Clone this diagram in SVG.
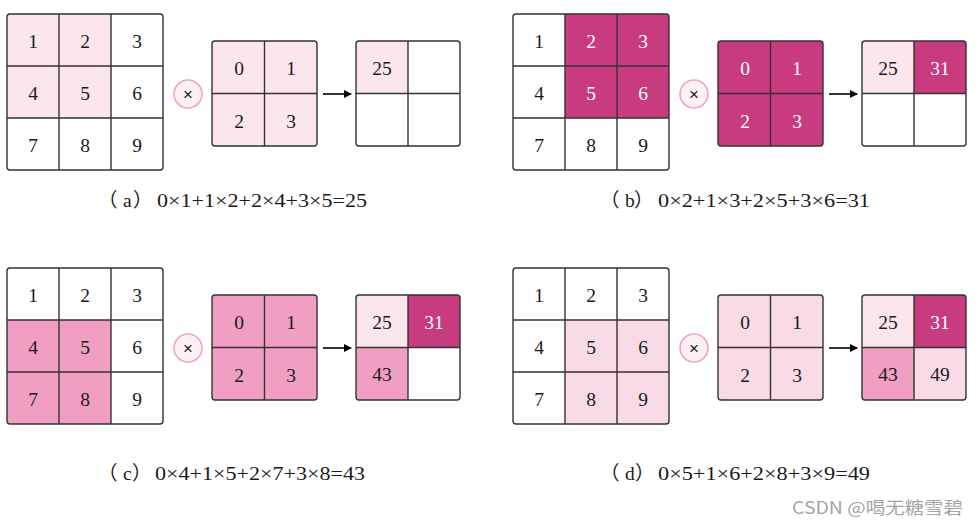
<svg xmlns="http://www.w3.org/2000/svg" width="979" height="526" viewBox="0 0 979 526">
<style>
.bg{fill:#ffffff}
.frame{fill:none;stroke:#333333;stroke-width:1.4}
.grid{stroke:#333333;stroke-width:1.4;fill:none}
.lt{fill:#FCE6ED}
.dk{fill:#C83B7E}
.md{fill:#F19EC3}
.pl{fill:#F9DAE7}
.wh{fill:#ffffff}
.num{font-family:"Liberation Serif",serif;font-size:19.5px;fill:#1a1a1a;text-anchor:middle}
.numw{font-family:"Liberation Serif",serif;font-size:19.5px;fill:#ffffff;text-anchor:middle}
.op{fill:#FDF1F6;stroke:#F3A3C4;stroke-width:1.6}
.opt{font-family:"Liberation Sans",sans-serif;font-size:17px;fill:#1a1a1a;text-anchor:middle}
.cap{font-family:"Liberation Serif","Noto Sans CJK SC",serif;font-size:19.5px;fill:#1a1a1a}
.arrow{stroke:#000000;stroke-width:1.6;fill:none}
.wm{font-family:"Noto Sans CJK SC","Liberation Sans",sans-serif;font-size:17px;fill:#A5A5A5}
</style>
<defs>
<marker id="ah" markerWidth="8" markerHeight="8" refX="7" refY="4" orient="auto" markerUnits="userSpaceOnUse">
<path d="M0,0 L8,4 L0,8 Z" fill="#000000"/>
</marker>
</defs>
<rect class="bg" x="0" y="0" width="979" height="526"/>

<!-- Panel (a) -->
<g id="panel-a">
<g id="a-input">
<rect class="wh" x="7" y="14" width="156" height="156" rx="3"/>
<rect class="lt" x="7" y="14" width="104" height="104"/>
<path class="grid" d="M59,14V170M111,14V170M7,66H163M7,118H163"/>
<rect class="frame" x="7" y="14" width="156" height="156" rx="3"/>
<text class="num" x="33" y="48">1</text><text class="num" x="85" y="48">2</text><text class="num" x="137" y="48">3</text>
<text class="num" x="33" y="100">4</text><text class="num" x="85" y="100">5</text><text class="num" x="137" y="100">6</text>
<text class="num" x="33" y="152">7</text><text class="num" x="85" y="152">8</text><text class="num" x="137" y="152">9</text>
</g>
<g id="a-op"><circle class="op" cx="188" cy="94" r="14"/><text class="opt" x="188" y="100">×</text></g>
<g id="a-kernel">
<rect class="lt" x="212" y="41" width="105" height="105" rx="3"/>
<path class="grid" d="M264.5,41V146M212,93.5H317"/>
<rect class="frame" x="212" y="41" width="105" height="105" rx="3"/>
<text class="num" x="239" y="75">0</text><text class="num" x="291" y="75">1</text>
<text class="num" x="239" y="128">2</text><text class="num" x="291" y="128">3</text>
</g>
<g id="a-output">
<rect class="wh" x="356" y="41" width="104" height="105" rx="3"/>
<rect class="lt" x="356" y="41" width="52" height="52.5"/>
<path class="grid" d="M408,41V146M356,93.5H460"/>
<rect class="frame" x="356" y="41" width="104" height="105" rx="3"/>
<text class="num" x="382" y="75">25</text>
</g>
<g id="a-caption">
<text class="cap" x="98 123 133" y="207">（a）</text>
<text class="cap" x="157" y="207" textLength="210" lengthAdjust="spacingAndGlyphs">0×1+1×2+2×4+3×5=25</text>
</g>
</g>

<!-- Panel (b) -->
<g id="panel-b" transform="translate(506,0)">
<g id="b-input">
<rect class="wh" x="7" y="14" width="156" height="156" rx="3"/>
<path class="dk" d="M59,14H160a3,3 0 0 1 3,3V118H59Z"/>
<path class="grid" d="M59,14V170M111,14V170M7,66H163M7,118H163"/>
<rect class="frame" x="7" y="14" width="156" height="156" rx="3"/>
<text class="num" x="33" y="48">1</text><text class="numw" x="85" y="48">2</text><text class="numw" x="137" y="48">3</text>
<text class="num" x="33" y="100">4</text><text class="numw" x="85" y="100">5</text><text class="numw" x="137" y="100">6</text>
<text class="num" x="33" y="152">7</text><text class="num" x="85" y="152">8</text><text class="num" x="137" y="152">9</text>
</g>
<g id="b-op"><circle class="op" cx="188" cy="94" r="14"/><text class="opt" x="188" y="100">×</text></g>
<g id="b-kernel">
<rect class="dk" x="212" y="41" width="105" height="105" rx="3"/>
<path class="grid" d="M264.5,41V146M212,93.5H317"/>
<rect class="frame" x="212" y="41" width="105" height="105" rx="3"/>
<text class="numw" x="239" y="75">0</text><text class="numw" x="291" y="75">1</text>
<text class="numw" x="239" y="128">2</text><text class="numw" x="291" y="128">3</text>
</g>
<g id="b-output">
<rect class="wh" x="356" y="41" width="104" height="105" rx="3"/>
<rect class="lt" x="356" y="41" width="52" height="52.5"/>
<path class="dk" d="M408,41H457a3,3 0 0 1 3,3V93.5H408Z"/>
<path class="grid" d="M408,41V146M356,93.5H460"/>
<rect class="frame" x="356" y="41" width="104" height="105" rx="3"/>
<text class="num" x="382" y="75">25</text><text class="numw" x="434" y="75">31</text>
</g>
<g id="b-caption">
<text class="cap" x="94 119 128" y="207">（b）</text>
<text class="cap" x="152" y="207" textLength="212" lengthAdjust="spacingAndGlyphs">0×2+1×3+2×5+3×6=31</text>
</g>
</g>

<!-- Panel (c) -->
<g id="panel-c" transform="translate(0,254)">
<g id="c-input">
<rect class="wh" x="7" y="14" width="156" height="156" rx="3"/>
<path class="md" d="M7,66H111V170H10a3,3 0 0 1 -3,-3Z"/>
<path class="grid" d="M59,14V170M111,14V170M7,66H163M7,118H163"/>
<rect class="frame" x="7" y="14" width="156" height="156" rx="3"/>
<text class="num" x="33" y="48">1</text><text class="num" x="85" y="48">2</text><text class="num" x="137" y="48">3</text>
<text class="num" x="33" y="100">4</text><text class="num" x="85" y="100">5</text><text class="num" x="137" y="100">6</text>
<text class="num" x="33" y="152">7</text><text class="num" x="85" y="152">8</text><text class="num" x="137" y="152">9</text>
</g>
<g id="c-op"><circle class="op" cx="188" cy="94" r="14"/><text class="opt" x="188" y="100">×</text></g>
<g id="c-kernel">
<rect class="md" x="212" y="41" width="105" height="105" rx="3"/>
<path class="grid" d="M264.5,41V146M212,93.5H317"/>
<rect class="frame" x="212" y="41" width="105" height="105" rx="3"/>
<text class="num" x="239" y="75">0</text><text class="num" x="291" y="75">1</text>
<text class="num" x="239" y="128">2</text><text class="num" x="291" y="128">3</text>
</g>
<g id="c-output">
<rect class="wh" x="356" y="41" width="104" height="105" rx="3"/>
<rect class="lt" x="356" y="41" width="52" height="52.5"/>
<path class="dk" d="M408,41H457a3,3 0 0 1 3,3V93.5H408Z"/>
<path class="md" d="M356,93.5H408V146H359a3,3 0 0 1 -3,-3Z"/>
<path class="grid" d="M408,41V146M356,93.5H460"/>
<rect class="frame" x="356" y="41" width="104" height="105" rx="3"/>
<text class="num" x="382" y="75">25</text><text class="numw" x="434" y="75">31</text>
<text class="num" x="382" y="127">43</text>
</g>
<g id="c-caption">
<text class="cap" x="98 123 132" y="226">（c）</text>
<text class="cap" x="155" y="226" textLength="210" lengthAdjust="spacingAndGlyphs">0×4+1×5+2×7+3×8=43</text>
</g>
</g>

<!-- Panel (d) -->
<g id="panel-d" transform="translate(506,254)">
<g id="d-input">
<rect class="wh" x="7" y="14" width="156" height="156" rx="3"/>
<path class="pl" d="M59,66H163V167a3,3 0 0 1 -3,3H59Z"/>
<path class="grid" d="M59,14V170M111,14V170M7,66H163M7,118H163"/>
<rect class="frame" x="7" y="14" width="156" height="156" rx="3"/>
<text class="num" x="33" y="48">1</text><text class="num" x="85" y="48">2</text><text class="num" x="137" y="48">3</text>
<text class="num" x="33" y="100">4</text><text class="num" x="85" y="100">5</text><text class="num" x="137" y="100">6</text>
<text class="num" x="33" y="152">7</text><text class="num" x="85" y="152">8</text><text class="num" x="137" y="152">9</text>
</g>
<g id="d-op"><circle class="op" cx="188" cy="94" r="14"/><text class="opt" x="188" y="100">×</text></g>
<g id="d-kernel">
<rect class="pl" x="212" y="41" width="105" height="105" rx="3"/>
<path class="grid" d="M264.5,41V146M212,93.5H317"/>
<rect class="frame" x="212" y="41" width="105" height="105" rx="3"/>
<text class="num" x="239" y="75">0</text><text class="num" x="291" y="75">1</text>
<text class="num" x="239" y="128">2</text><text class="num" x="291" y="128">3</text>
</g>
<g id="d-output">
<rect class="pl" x="356" y="41" width="104" height="105" rx="3"/>
<rect class="lt" x="356" y="41" width="52" height="52.5"/>
<path class="dk" d="M408,41H457a3,3 0 0 1 3,3V93.5H408Z"/>
<path class="md" d="M356,93.5H408V146H359a3,3 0 0 1 -3,-3Z"/>
<path class="grid" d="M408,41V146M356,93.5H460"/>
<rect class="frame" x="356" y="41" width="104" height="105" rx="3"/>
<text class="num" x="382" y="75">25</text><text class="numw" x="434" y="75">31</text>
<text class="num" x="382" y="127">43</text><text class="num" x="434" y="127">49</text>
</g>
<g id="d-caption">
<text class="cap" x="94 119 129" y="226">（d）</text>
<text class="cap" x="152" y="226" textLength="212" lengthAdjust="spacingAndGlyphs">0×5+1×6+2×8+3×9=49</text>
</g>
</g>

<g id="connectors">
<line class="arrow" x1="323" y1="94" x2="351" y2="94" marker-end="url(#ah)"/>
<line class="arrow" x1="829" y1="94" x2="857" y2="94" marker-end="url(#ah)"/>
<line class="arrow" x1="323" y1="348" x2="351" y2="348" marker-end="url(#ah)"/>
<line class="arrow" x1="829" y1="348" x2="857" y2="348" marker-end="url(#ah)"/>
</g>

<text class="wm" x="792" y="514" textLength="171" lengthAdjust="spacingAndGlyphs">CSDN @喝无糖雪碧</text>
</svg>
